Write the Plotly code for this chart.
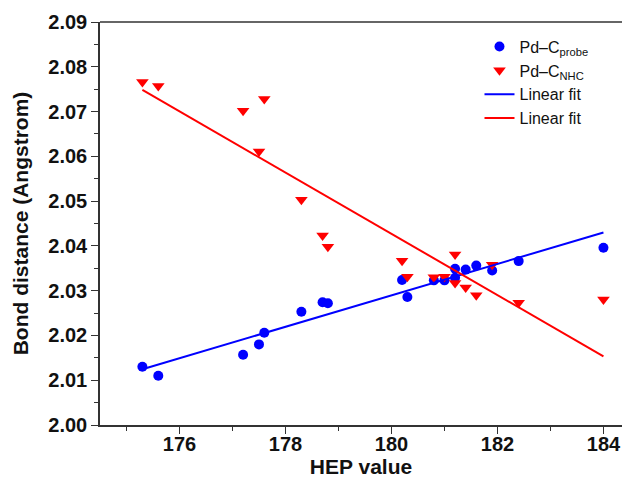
import numpy as np
import plotly.graph_objects as go

# HEP values shared by both bond series
hep = [175.3, 175.6, 177.2, 177.5, 177.6, 178.3, 178.7, 178.8, 180.2, 180.3,
       180.8, 181.0, 181.2, 181.2, 181.4, 181.6, 181.9, 182.4, 184.0]

# Pd–C(probe) bond distances (Angstrom)
pd_c_probe = [2.0130, 2.0110, 2.0157, 2.0180, 2.0206, 2.0253, 2.0274, 2.0272, 2.0324, 2.0286,
              2.0323, 2.0323, 2.0329, 2.0349, 2.0347, 2.0356, 2.0345, 2.0366, 2.0396]

# Pd–C(NHC) bond distances (Angstrom)
pd_c_nhc = [2.0766, 2.0757, 2.0702, 2.0611, 2.0728, 2.0503, 2.0423, 2.0398, 2.0367, 2.0331,
            2.0330, 2.0331, 2.0381, 2.0317, 2.0307, 2.0290, 2.0358, 2.0273, 2.0280]

x_ticks = [176, 178, 180, 182, 184]

FONT = "Liberation Sans, Arial, sans-serif"

x = np.array(hep)
fit_x = np.array([x.min(), x.max()])
probe_fit = np.polyval(np.polyfit(x, pd_c_probe, 1), fit_x)
nhc_fit = np.polyval(np.polyfit(x, pd_c_nhc, 1), fit_x)

fig = go.Figure()
fig.add_trace(go.Scatter(
    x=hep, y=pd_c_probe, mode="markers", name="Pd–C<sub>probe</sub>",
    marker=dict(symbol="circle", size=10, color="#0000ff"),
))
fig.add_trace(go.Scatter(
    x=hep, y=pd_c_nhc, mode="markers", name="Pd–C<sub>NHC</sub>",
    marker=dict(symbol="triangle-down", size=11, color="#ff0000"),
))
fig.add_trace(go.Scatter(
    x=fit_x, y=probe_fit, mode="lines", name="Linear fit",
    line=dict(color="#0000ff", width=2),
))
fig.add_trace(go.Scatter(
    x=fit_x, y=nhc_fit, mode="lines", name="Linear fit",
    line=dict(color="#ff0000", width=2),
))

axis_common = dict(
    showline=True, linecolor="#333333", linewidth=1.5, mirror=False,
    showgrid=False, zeroline=False,
    ticks="outside", ticklen=7, tickwidth=1.3, tickcolor="#333333",
    tickfont=dict(family=FONT, size=20, color="#111111", weight="bold"),
)

fig.update_layout(
    width=622, height=479,
    margin=dict(l=100, r=0, t=22, b=54),
    paper_bgcolor="white", plot_bgcolor="white",
    showlegend=True,
    legend=dict(
        x=0.727, y=0.981, xanchor="left", yanchor="top",
        bgcolor="rgba(0,0,0,0)", borderwidth=0,
        font=dict(family=FONT, size=16, color="#111111"),
        tracegroupgap=0,
    ),
    xaxis=dict(
        range=[174.5, 184.35], tickvals=x_ticks,
        ticklabelstandoff=-7,
        minor=dict(dtick=1, ticks="outside", ticklen=4, tickcolor="#333333"),
        title=dict(text="HEP value", standoff=4,
                   font=dict(family=FONT, size=21, color="#111111", weight="bold")),
        **axis_common,
    ),
    yaxis=dict(
        range=[2.00, 2.09], dtick=0.01, tickformat=".2f",
        minor=dict(dtick=0.005, ticks="outside", ticklen=4, tickcolor="#333333"),
        title=dict(text="Bond distance (Angstrom)", standoff=14,
                   font=dict(family=FONT, size=21, color="#111111", weight="bold")),
        **axis_common,
    ),
    shapes=[dict(type="line", xref="paper", yref="paper", x0=0, x1=1, y0=1, y1=1,
                 line=dict(color="#333333", width=1.5))],
)

fig.write_html("out.html")
